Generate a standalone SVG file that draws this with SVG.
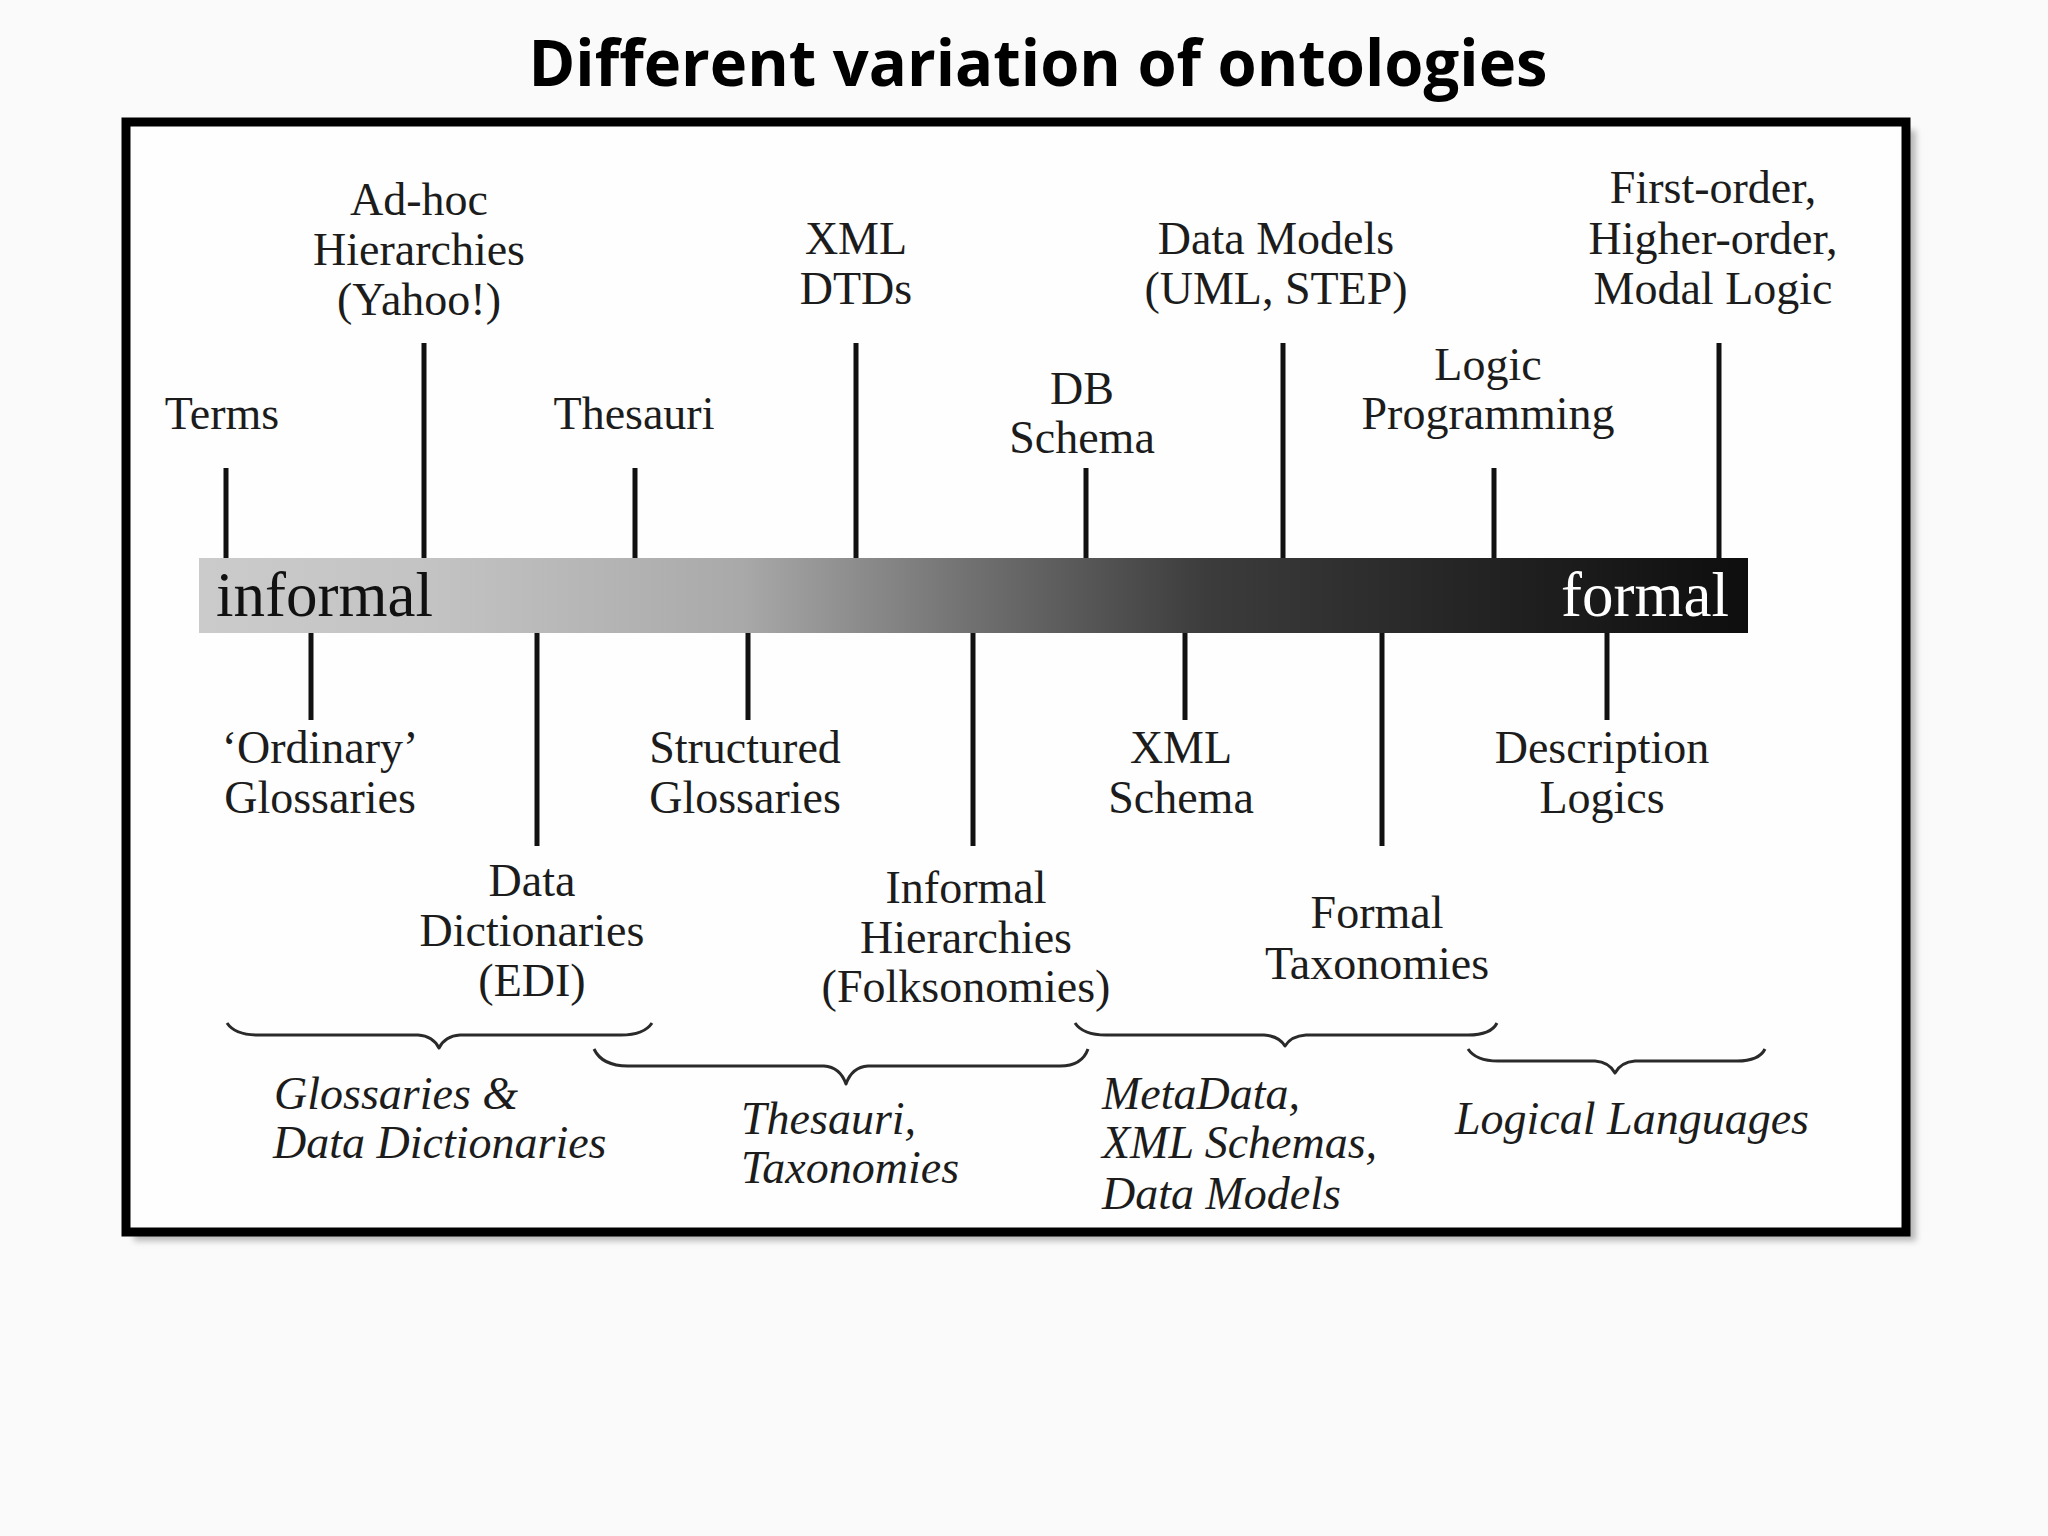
<svg xmlns="http://www.w3.org/2000/svg" width="2048" height="1536" viewBox="0 0 2048 1536">
  <defs>
    <linearGradient id="barGrad" x1="0" y1="0" x2="1" y2="0">
      <stop offset="0" stop-color="#cbcbcb"/>
      <stop offset="0.15" stop-color="#c3c3c3"/>
      <stop offset="0.35" stop-color="#a9a9a9"/>
      <stop offset="0.5" stop-color="#707070"/>
      <stop offset="0.65" stop-color="#3c3c3c"/>
      <stop offset="0.85" stop-color="#202020"/>
      <stop offset="1" stop-color="#0e0e0e"/>
    </linearGradient>
    <filter id="shadowBlur" x="-5%" y="-5%" width="110%" height="110%">
      <feGaussianBlur stdDeviation="3"/>
    </filter>
  </defs>
  <style>
    .title { font-family: "Open Sans", "Noto Sans", sans-serif; font-weight: bold; font-size: 64px; fill: #000; text-anchor: middle; }
    .lbl { font-family: "Liberation Serif", "Times New Roman", serif; font-size: 46px; fill: #1c1c1c; text-anchor: middle; }
    .it { font-family: "Liberation Serif", "Times New Roman", serif; font-size: 46px; font-style: italic; fill: #1c1c1c; text-anchor: start; }
    .bartxt { font-family: "Liberation Serif", "Times New Roman", serif; font-size: 63px; }
    .tick { stroke: #111; stroke-width: 5; fill: none; }
    .brace { stroke: #2a2a2a; stroke-width: 3; fill: none; stroke-linejoin: round; }
  </style>

  <rect x="0" y="0" width="2048" height="1536" fill="#f9faf9"/>

  <text class="title" x="1038" y="86" textLength="1019" lengthAdjust="spacingAndGlyphs">Different variation of ontologies</text>

  <g id="frame">
    <rect x="134" y="130" width="1782" height="1111" fill="#b8b8b8" filter="url(#shadowBlur)"/>
    <rect x="126" y="122" width="1780" height="1110" fill="#fdfefd" stroke="#000" stroke-width="9"/>
  </g>

  <g id="scale-bar">
    <rect x="199" y="558" width="1549" height="75" fill="url(#barGrad)"/>
    <text class="bartxt" x="216" y="616" fill="#111">informal</text>
    <text class="bartxt" x="1729" y="616" fill="#ffffff" text-anchor="end">formal</text>
  </g>

  <g id="connectors">
    <line class="tick" x1="226" y1="468" x2="226" y2="558"/>
    <line class="tick" x1="424" y1="343" x2="424" y2="558"/>
    <line class="tick" x1="635" y1="468" x2="635" y2="558"/>
    <line class="tick" x1="856" y1="343" x2="856" y2="558"/>
    <line class="tick" x1="1086" y1="468" x2="1086" y2="558"/>
    <line class="tick" x1="1283" y1="343" x2="1283" y2="558"/>
    <line class="tick" x1="1494" y1="468" x2="1494" y2="558"/>
    <line class="tick" x1="1719" y1="343" x2="1719" y2="558"/>

    <line class="tick" x1="311" y1="633" x2="311" y2="720"/>
    <line class="tick" x1="537" y1="633" x2="537" y2="846"/>
    <line class="tick" x1="748" y1="633" x2="748" y2="720"/>
    <line class="tick" x1="973" y1="633" x2="973" y2="846"/>
    <line class="tick" x1="1185" y1="633" x2="1185" y2="720"/>
    <line class="tick" x1="1382" y1="633" x2="1382" y2="846"/>
    <line class="tick" x1="1607" y1="633" x2="1607" y2="720"/>
  </g>

  <g id="braces">
    <path class="brace" d="M227,1023 Q235,1035 258,1035 L418,1035 Q433,1036 439,1048 Q445,1036 460,1035 L621,1035 Q644,1035 652,1023"/>
    <path class="brace" d="M594,1049 Q602,1066 628,1066 L824,1066 Q840,1067 846,1084 Q852,1067 868,1066 L1060,1066 Q1082,1066 1088,1049"/>
    <path class="brace" d="M1075,1023 Q1083,1035 1106,1035 L1264,1035 Q1279,1036 1285,1046 Q1291,1036 1306,1035 L1468,1035 Q1491,1035 1497,1023"/>
    <path class="brace" d="M1468,1049 Q1476,1061 1498,1061 L1595,1061 Q1609,1062 1615,1073 Q1621,1062 1635,1061 L1737,1061 Q1759,1061 1765,1049"/>
  </g>

  <g id="terms"><text class="lbl" x="222" y="429">Terms</text></g>
  <g id="adhoc">
    <text class="lbl" x="419" y="215">Ad-hoc</text>
    <text class="lbl" x="419" y="265">Hierarchies</text>
    <text class="lbl" x="419" y="315">(Yahoo!)</text>
  </g>
  <g id="thesauri"><text class="lbl" x="634" y="429">Thesauri</text></g>
  <g id="xml-dtds">
    <text class="lbl" x="856" y="254">XML</text>
    <text class="lbl" x="856" y="304">DTDs</text>
  </g>
  <g id="db-schema">
    <text class="lbl" x="1082" y="404">DB</text>
    <text class="lbl" x="1082" y="453">Schema</text>
  </g>
  <g id="data-models">
    <text class="lbl" x="1276" y="254">Data Models</text>
    <text class="lbl" x="1276" y="304">(UML, STEP)</text>
  </g>
  <g id="logic-programming">
    <text class="lbl" x="1488" y="380">Logic</text>
    <text class="lbl" x="1488" y="429">Programming</text>
  </g>
  <g id="first-order">
    <text class="lbl" x="1713" y="203">First-order,</text>
    <text class="lbl" x="1713" y="254">Higher-order,</text>
    <text class="lbl" x="1713" y="304">Modal Logic</text>
  </g>

  <g id="ordinary-glossaries">
    <text class="lbl" x="320" y="763">‘Ordinary’</text>
    <text class="lbl" x="320" y="813">Glossaries</text>
  </g>
  <g id="data-dictionaries">
    <text class="lbl" x="532" y="896">Data</text>
    <text class="lbl" x="532" y="946">Dictionaries</text>
    <text class="lbl" x="532" y="996">(EDI)</text>
  </g>
  <g id="structured-glossaries">
    <text class="lbl" x="745" y="763">Structured</text>
    <text class="lbl" x="745" y="813">Glossaries</text>
  </g>
  <g id="informal-hierarchies">
    <text class="lbl" x="966" y="903">Informal</text>
    <text class="lbl" x="966" y="953">Hierarchies</text>
    <text class="lbl" x="966" y="1002">(Folksonomies)</text>
  </g>
  <g id="xml-schema">
    <text class="lbl" x="1181" y="763">XML</text>
    <text class="lbl" x="1181" y="813">Schema</text>
  </g>
  <g id="formal-taxonomies">
    <text class="lbl" x="1377" y="928">Formal</text>
    <text class="lbl" x="1377" y="979">Taxonomies</text>
  </g>
  <g id="description-logics">
    <text class="lbl" x="1602" y="763">Description</text>
    <text class="lbl" x="1602" y="813">Logics</text>
  </g>

  <g id="group-glossaries">
    <text class="it" x="274" y="1109">Glossaries &amp;</text>
    <text class="it" x="273" y="1158">Data Dictionaries</text>
  </g>
  <g id="group-thesauri">
    <text class="it" x="741" y="1134">Thesauri,</text>
    <text class="it" x="741" y="1183">Taxonomies</text>
  </g>
  <g id="group-metadata">
    <text class="it" x="1102" y="1109">MetaData,</text>
    <text class="it" x="1102" y="1158">XML Schemas,</text>
    <text class="it" x="1102" y="1209">Data Models</text>
  </g>
  <g id="group-logical">
    <text class="it" x="1455" y="1134">Logical Languages</text>
  </g>
</svg>
